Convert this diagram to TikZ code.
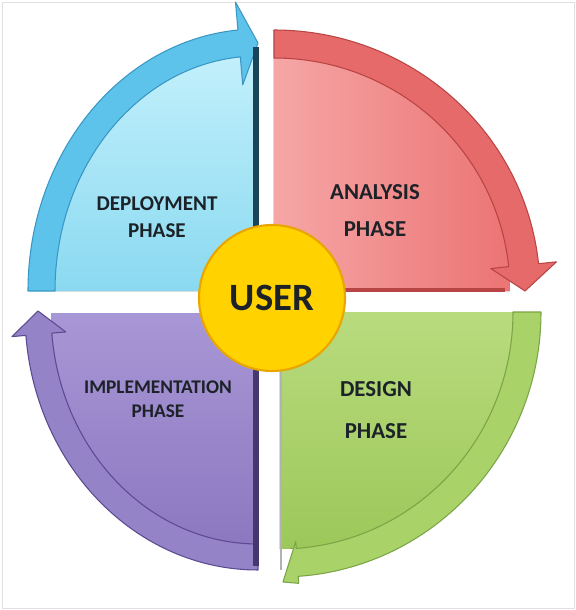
\documentclass[tikz,border=0pt]{standalone}
\usepackage{fontspec}
\setmainfont{Carlito}
\definecolor{bluefillA}{HTML}{C2F0FB}
\definecolor{bluefillB}{HTML}{8AD9F1}
\definecolor{blueband}{HTML}{5EC3EA}
\definecolor{blueedge}{HTML}{3A97C4}
\definecolor{redfillA}{HTML}{F6A6A6}
\definecolor{redfillB}{HTML}{EC7474}
\definecolor{redband}{HTML}{E66A6A}
\definecolor{rededge}{HTML}{B84444}
\definecolor{greenfillA}{HTML}{B9DB7E}
\definecolor{greenfillB}{HTML}{9CC85A}
\definecolor{greenband}{HTML}{A9D268}
\definecolor{greenedge}{HTML}{7BA446}
\definecolor{purplefillA}{HTML}{A897D6}
\definecolor{purplefillB}{HTML}{8C78C0}
\definecolor{purpleband}{HTML}{9483C7}
\definecolor{purpleedge}{HTML}{5C4A92}
\definecolor{userfill}{HTML}{FFD200}
\definecolor{useredge}{HTML}{E9A500}
\definecolor{phasetext}{HTML}{1C2228}
\tikzset{
  phase/.style={font=\bfseries\fontsize{13}{15}\selectfont, align=center, text=phasetext},
  band/.style={line width=0.6pt, line join=round},
}
\begin{document}
\begin{tikzpicture}[x=0.02cm,y=0.02cm]
	%frame
	\fill[white] (0,0) rectangle (576,610);
	\draw[black!12] (2,2) rectangle (574,608);

	%deployment (top left)
	\fill[top color=bluefillA, bottom color=bluefillB] (258,319) -- (55,319) arc[start angle=180, end angle=90, x radius=203, y radius=235] -- cycle; %fill
	\draw[band, draw=blueedge, fill=blueband] (28,319) arc[start angle=180, end angle=95, x radius=230, y radius=262]
		-- ({258+258*cos(95)},{319+290*sin(95)}) -- (258,567) -- ({258+175*cos(95)},{319+207*sin(95)})
		-- ({258+203*cos(95)},{319+235*sin(95)}) arc[start angle=95, end angle=180, x radius=203, y radius=235] -- cycle; %arrow
	\draw[line width=3pt, blueedge!45!black] (256,319) -- (256,563); %shadow

	%analysis (top right)
	\fill[left color=redfillA, right color=redfillB] (274,319) -- (274,552) arc[start angle=90, end angle=0, x radius=236, y radius=233] -- cycle; %fill
	\draw[band, draw=rededge, fill=redband] (274,580) arc[start angle=90, end angle=6, x radius=266, y radius=261]
		-- ({274+284*cos(6)},{319+279*sin(6)}) -- (525,319) -- ({274+218*cos(6)},{319+215*sin(6)})
		-- ({274+236*cos(6)},{319+233*sin(6)}) arc[start angle=6, end angle=90, x radius=236, y radius=233] -- cycle; %arrow
	\draw[line width=2.5pt, rededge] (274,320) -- (505,320); %shadow

	%design (bottom right)
	\fill[top color=greenfillA, bottom color=greenfillB] (280,298) -- (513,298) arc[start angle=0, end angle=-90, x radius=233, y radius=237] -- cycle; %fill
	\draw[band, draw=greenedge, fill=greenband] (541,298) arc[start angle=0, end angle=-86, x radius=261, y radius=265]
		-- ({280+268*cos(-86)},{298+272*sin(-86)}) -- (283,28) -- ({280+226*cos(-86)},{298+230*sin(-86)})
		-- ({280+233*cos(-86)},{298+237*sin(-86)}) arc[start angle=-86, end angle=0, x radius=233, y radius=237] -- cycle; %arrow
	\draw[line width=1.5pt, black!30] (281,298) -- (281,40); %shadow

	%implementation (bottom left)
	\fill[top color=purplefillA, bottom color=purplefillB] (258,297) -- (258,66) arc[start angle=270, end angle=180, x radius=207, y radius=231] -- cycle; %fill
	\draw[band, draw=purpleedge, fill=purpleband] (258,40) arc[start angle=270, end angle=185, x radius=233, y radius=257]
		-- ({258+247*cos(185)},{297+271*sin(185)}) -- (38,299) -- ({258+193*cos(185)},{297+217*sin(185)})
		-- ({258+207*cos(185)},{297+231*sin(185)}) arc[start angle=185, end angle=270, x radius=207, y radius=231] -- cycle; %arrow
	\draw[line width=3pt, purpleedge!75!black] (256,297) -- (256,44); %shadow

	%user circle
	\node[circle, draw=useredge, line width=1.2pt, fill=userfill, minimum size=146*0.02cm, inner sep=0pt,
		font=\bfseries\fontsize{22}{24}\selectfont, text=phasetext] (user) at (272,312) {USER};

	%labels
	\node[phase, font=\bfseries\fontsize{12}{14}\selectfont] (deploy) at (157,393) {DEPLOYMENT\\[1pt]PHASE}; %deployment
	\node[phase] (analysis) at (375,399) {ANALYSIS\\[6pt]PHASE}; %analysis
	\node[phase] (design) at (376,200) {DESIGN\\[9pt]PHASE}; %design
	\node[phase, font=\bfseries\fontsize{11}{13}\selectfont] (implement) at (158,211) {IMPLEMENTATION\\[0.5pt]PHASE}; %implementation
\end{tikzpicture}
\end{document}
